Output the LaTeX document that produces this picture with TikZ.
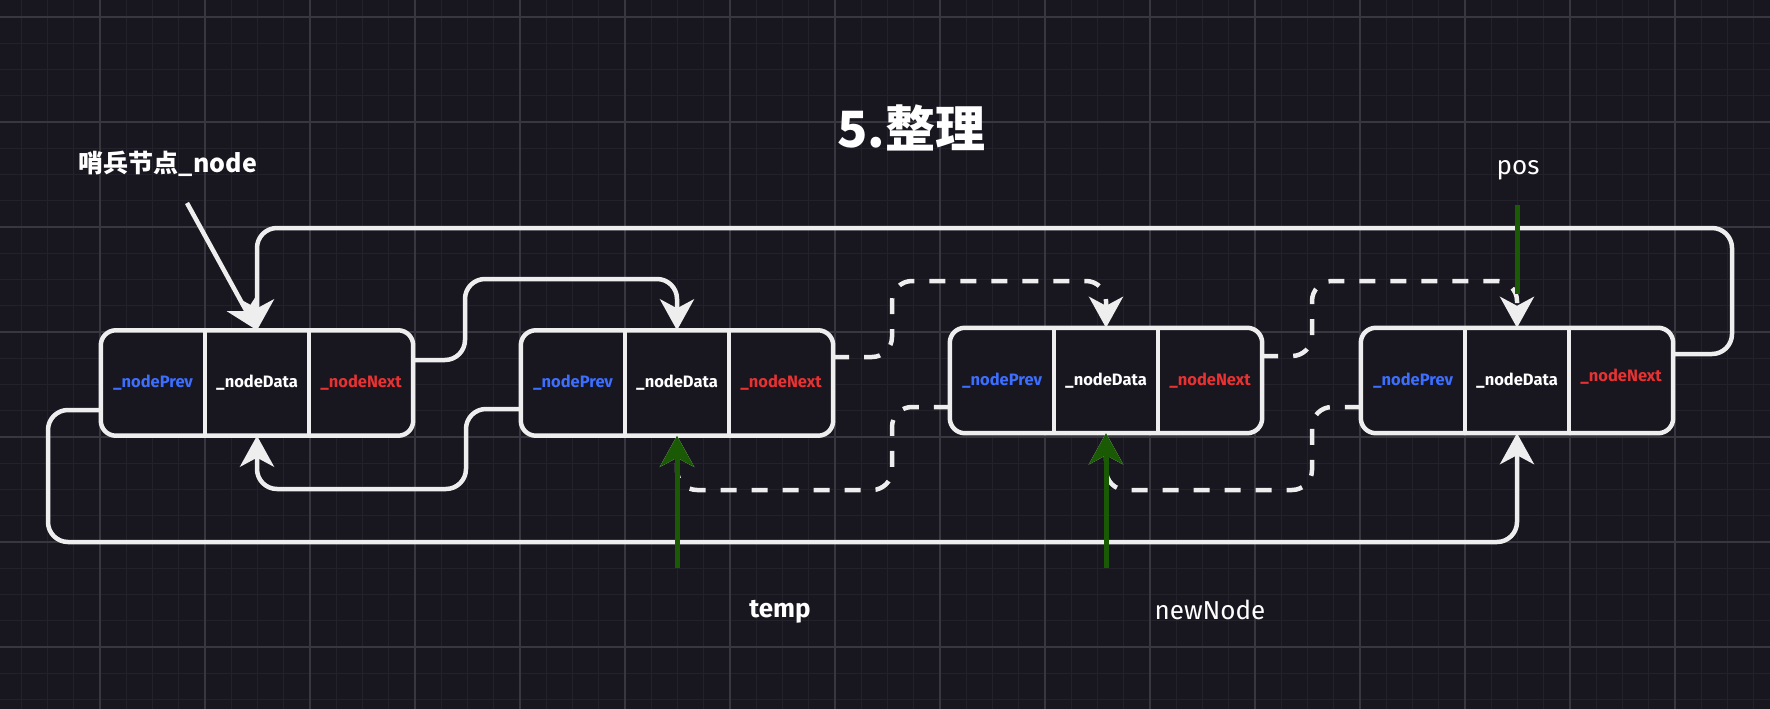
\documentclass[tikz,border=0pt]{standalone}
\usepackage{fontspec}
\setmainfont{Fira Sans}
\newfontfamily\cjk{Noto Sans CJK SC}
\usetikzlibrary{arrows.meta,calc}
\definecolor{bg}{RGB}{24,22,31}
\definecolor{gridminor}{RGB}{35,33,42}
\definecolor{gridmajor}{RGB}{56,54,63}
\definecolor{wline}{RGB}{238,238,238}
\definecolor{gline}{RGB}{26,90,4}
\definecolor{pblue}{RGB}{60,110,255}
\definecolor{nred}{RGB}{232,50,50}
\tikzset{
  cell/.style={minimum width=104pt,minimum height=105pt,inner sep=0pt,font=\fontsize{16.5}{18}\selectfont\bfseries},
  boxline/.style={draw=wline,line width=4.5pt,fill=bg,rounded corners=15pt},
  divline/.style={draw=wline,line width=4.5pt},
  conn/.style={draw=wline,line width=4.5pt,rounded corners=20pt,-{Stealth[length=31pt,width=34pt,inset=9pt]}},
  dconn/.style={conn,dash pattern=on 16pt off 15pt},
  garrow/.style={draw=gline,line width=5pt,-{Stealth[length=31pt,width=34pt,inset=9pt]}},
  gline/.style={draw=gline,line width=5pt},
  lbl/.style={text=white,font=\fontsize{26}{30}\selectfont},
}
\begin{document}
\begin{tikzpicture}[x=1pt,y=-1pt]
\useasboundingbox (0,0) rectangle (1770,709);
\fill[bg] (0,0) rectangle (1770,709);
% grid
\foreach \k in {0,...,66} \draw[gridminor,line width=1.2pt] ({21.25+26.25*\k},0) -- ++(0,709);
\foreach \k in {0,...,26} \draw[gridminor,line width=1.2pt] (0,{17+26.25*\k}) -- ++(1770,0);
\foreach \k in {1,...,16} \draw[gridmajor,line width=1.2pt] ({-5+105*\k},0) -- ++(0,709);
\foreach \k in {0,...,6} \draw[gridmajor,line width=1.2pt] (0,{17+105*\k}) -- ++(1770,0);

% title and labels
\node[text=white,font=\cjk\bfseries\fontsize{50}{56}\selectfont] (title) at (911,128) {5.整理};
\node[text=white,font=\cjk\bfseries\fontsize{25}{30}\selectfont] (sent) at (168,164) {哨兵节点\_node};
\node[lbl] (poslbl) at (1518,170) {pos};
\node[lbl,font=\fontsize{26}{30}\selectfont\bfseries] (templbl) at (780,612) {temp};
\node[lbl] (newlbl) at (1210,610) {newNode};

% cells
\foreach \n/\x/\y in {1/153/383,2/573/383,3/1002/380.5,4/1413/380.5}{
  \node[cell] (n\n p) at (\x,\y) {};
  \node[cell] (n\n d) at ({\x+104},\y) {};
  \node[cell] (n\n n) at ({\x+208},\y) {};
}

% connectors (under boxes)
\coordinate (s0) at (187,203);
\draw[conn] (s0) -- (n1d.north);
\draw[conn] ([yshift=23pt]n1n.east) -- (465,360) -- (465,279) -- (677,279) -- (n2d.north);
\draw[conn] ([yshift=-26pt]n2p.west) -- (466,409) -- (466,489) -- (257,489) -- (n1d.south);
\draw[conn] ([yshift=26.5pt]n4n.east) -- (1732,354) -- (1732,228) -- (257,228) -- (n1d.north);
\draw[conn] ([yshift=-27pt]n1p.west) -- (48,410) -- (48,542) -- (1517,542) -- (n4d.south);
\draw[dconn] ([yshift=26pt]n2n.east) -- (892,357) -- (892,281) -- (1106,281) -- (n3d.north);
\draw[dconn] ([yshift=-26.5pt]n3p.west) -- (892,407) -- (892,490) -- (677,490) -- (n2d.south);
\draw[dconn] ([yshift=24.5pt]n3n.east) -- (1312,356) -- (1312,281) -- (1517,281) -- (n4d.north);
\draw[dconn] ([yshift=-26.5pt]n4p.west) -- (1312,407) -- (1312,490) -- (1106,490) -- (n3d.south);

% boxes
\foreach \n in {1,2,3,4}{
  \draw[boxline] (n\n p.north west) rectangle (n\n n.south east);
  \draw[divline] (n\n d.north west) -- (n\n d.south west);
  \draw[divline] (n\n d.north east) -- (n\n d.south east);
}
% cell texts
\foreach \n in {1,2,3}{
  \node[cell,text=pblue] at (n\n p) {\_nodePrev};
  \node[cell,text=white] at (n\n d) {\_nodeData};
  \node[cell,text=nred] at (n\n n) {\_nodeNext};
}
\node[cell,text=pblue] at (n4p) {\_nodePrev};
\node[cell,text=white] at (n4d) {\_nodeData};
\node[cell,text=nred] at ([yshift=4pt]n4n.center) {\_nodeNext};

% green pointers
\coordinate (t0) at (677,568);
\coordinate (nn0) at (1106,568);
\coordinate (p0) at (1517,205);
\draw[garrow] (t0) -- (n2d.south);
\draw[garrow] (nn0) -- (n3d.south);
\draw[gline] (p0) -- ([yshift=34pt]n4d.north);
\end{tikzpicture}
\end{document}
